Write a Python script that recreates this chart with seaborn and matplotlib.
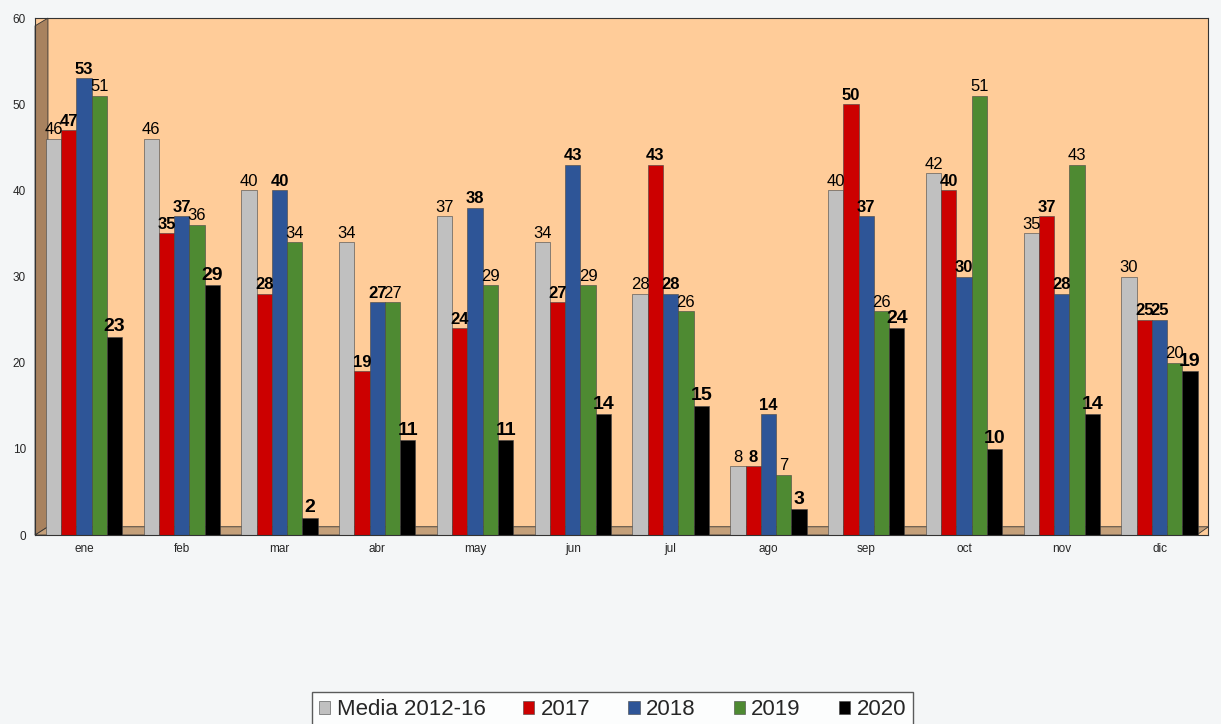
import matplotlib
matplotlib.use("Agg")
import matplotlib.pyplot as plt
from matplotlib.patches import Polygon
import numpy as np
import pandas as pd
import seaborn as sns

months = ["ene", "feb", "mar", "abr", "may", "jun", "jul", "ago", "sep", "oct", "nov", "dic"]
series = ["Media 2012-16", "2017", "2018", "2019", "2020"]
media = [46, 46, 40, 34, 37, 34, 28, 8, 40, 42, 35, 30]
y2017 = [47, 35, 28, 19, 24, 27, 43, 8, 50, 40, 37, 25]
y2018 = [53, 37, 40, 27, 38, 43, 28, 14, 37, 30, 28, 25]
y2019 = [51, 36, 34, 27, 29, 29, 26, 7, 26, 51, 43, 20]
y2020 = [23, 29, 2, 11, 11, 14, 15, 3, 24, 10, 14, 19]

colors = ["#c0c0c0", "#cc0000", "#2e5597", "#4e8a32", "#000000"]

rows = []
for name, vals in zip(series, [media, y2017, y2018, y2019, y2020]):
    for m, v in zip(months, vals):
        rows.append({"mes": m, "serie": name, "valor": v})
df = pd.DataFrame(rows)

sns.set_style("white")
plt.rcParams["font.family"] = ["Liberation Sans", "DejaVu Sans"]

fig = plt.figure(figsize=(12.21, 7.24), dpi=100, facecolor="#f4f6f7")
ax = fig.add_axes([0.0287, 0.261, 0.961, 0.714])
ax.set_facecolor("#ffcc99")

sns.barplot(data=df, x="mes", y="valor", hue="serie", order=months, hue_order=series,
            palette=colors, saturation=1, width=0.78, gap=0, ax=ax,
            edgecolor="#444444", linewidth=0.4, legend=True)

# etiquetas de valores
styles = [("normal", 12), ("bold", 12), ("bold", 12), ("normal", 12), ("bold", 14)]
for cont, (w, s) in zip(ax.containers, styles):
    ax.bar_label(cont, fmt="%d", padding=1, fontsize=s, fontweight=w, color="black")

ax.set_ylim(0, 60)
ax.set_xlim(-0.5, 11.5)
ax.set_yticks(range(0, 61, 10))
ax.set_xlabel("")
ax.set_ylabel("")
ax.tick_params(axis="both", labelsize=8.5, length=3, color="#333333")
ax.tick_params(axis="x", length=0, pad=6)
ax.set_xticks(np.arange(-0.5, 12, 1), minor=True)
ax.tick_params(axis="x", which="minor", length=4, color="#333333")
for sp in ax.spines.values():
    sp.set_color("#333333")
    sp.set_linewidth(0.8)

# pared izquierda y suelo
wall = Polygon([(0, 0), (0.011, 0.016), (0.011, 1.0), (0, 0.985)], closed=True,
               transform=ax.transAxes, facecolor="#a8825f", edgecolor="#333333",
               linewidth=0.6, clip_on=False, zorder=0.5)
ax.add_patch(wall)
floor = Polygon([(0, 0), (0.011, 0.016), (1.0, 0.016), (0.99, 0)], closed=True,
                transform=ax.transAxes, facecolor="#c4a07a", edgecolor="#333333",
                linewidth=0.6, clip_on=False, zorder=0.5)
ax.add_patch(floor)

ax.legend(loc="upper center", bbox_to_anchor=(0.492, -0.283), ncol=5, frameon=True,
          fontsize=16, handlelength=0.5, handleheight=0.5, handletextpad=0.3,
          columnspacing=1.7, fancybox=False, edgecolor="#333333", borderpad=0.3)

fig.savefig("out.png", dpi=100, facecolor=fig.get_facecolor())
